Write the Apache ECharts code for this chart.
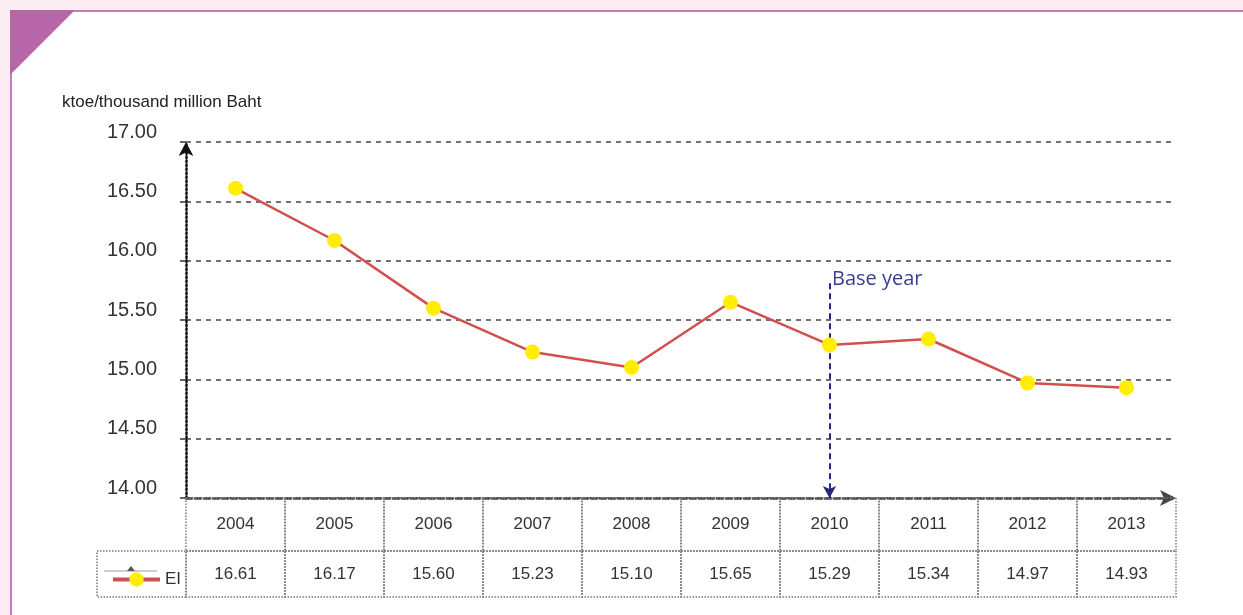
<!DOCTYPE html>
<html>
<head>
<meta charset="utf-8">
<script src="https://cdn.jsdelivr.net/npm/echarts@6/dist/echarts.min.js"></script>
<style>
html,body{margin:0;padding:0;background:#fdeef5;width:1243px;height:615px;overflow:hidden;}
#panel{position:absolute;left:10px;top:10px;right:0;bottom:0;background:#fff;border-top:2px solid #c97ab9;border-left:2px solid #c97ab9;}
#chart{position:absolute;left:0;top:0;width:1243px;height:615px;}
</style>
</head>
<body>
<div id="panel"></div>
<div id="chart"></div>
<script>
const years = ['2004','2005','2006','2007','2008','2009','2010','2011','2012','2013'];
const eiValues = [16.61, 16.17, 15.60, 15.23, 15.10, 15.65, 15.29, 15.34, 14.97, 14.93];
const yMin = 14, yMax = 17, yStep = 0.5;
const baseYear = '2010';
const baseYearTop = 15.81;
const unitLabel = 'ktoe/thousand million Baht';
const seriesName = 'EI';

const FONT = '"Liberation Sans", Arial, sans-serif';
const tableData = years.map((y, i) => [i, eiValues[i]]);
const dotted = {fill: 'none', stroke: '#7a7a7a', lineWidth: 1.5, lineDash: [1.5, 1.5]};

function renderTable(params, api) {
  const i = api.value(0);
  const c = api.coord([i, yMin]);
  const w = api.size([1, 0])[0];
  const x0 = c[0] - w / 2, y0 = c[1];
  const h1 = 53, h2 = 46;
  const children = [
    {type: 'rect', shape: {x: x0, y: y0, width: w, height: h1}, style: dotted},
    {type: 'rect', shape: {x: x0, y: y0 + h1, width: w, height: h2}, style: dotted},
    {type: 'text', style: {text: years[i], x: c[0], y: y0 + h1 / 2, align: 'center', verticalAlign: 'middle', fontSize: 17, fontFamily: FONT, fill: '#333'}},
    {type: 'text', style: {text: eiValues[i].toFixed(2), x: c[0], y: y0 + h1 + h2 / 2, align: 'center', verticalAlign: 'middle', fontSize: 17, fontFamily: FONT, fill: '#333'}}
  ];
  if (i === 0) {
    const lw = 89;
    children.push({type: 'rect', shape: {x: x0 - lw, y: y0 + h1, width: lw, height: h2}, style: dotted});
    children.push({type: 'line', shape: {x1: x0 - lw + 7, y1: y0 + h1 + 20, x2: x0 - lw + 60, y2: y0 + h1 + 20}, style: {stroke: '#999', lineWidth: 1}});
    children.push({type: 'polygon', shape: {points: [[x0 - lw + 30, y0 + h1 + 20], [x0 - lw + 34, y0 + h1 + 15], [x0 - lw + 38, y0 + h1 + 20]]}, style: {fill: '#555'}});
  }
  return {type: 'group', children};
}

const chart = echarts.init(document.getElementById('chart'), null, {renderer: 'canvas'});
chart.setOption({
  animation: false,
  backgroundColor: 'transparent',
  graphic: [
    {type: 'polygon', shape: {points: [[10, 10], [75, 10], [10, 75]]}, style: {fill: '#b966a8'}}
  ],
  title: {
    text: unitLabel, left: 57, top: 89,
    textStyle: {fontSize: 17, fontWeight: 'normal', color: '#222', fontFamily: FONT}
  },
  legend: {
    data: [seriesName], left: 106, top: 566, itemWidth: 47, itemHeight: 18, itemGap: 8,
    lineStyle: {width: 4},
    textStyle: {fontSize: 17, color: '#333', fontFamily: FONT}
  },
  grid: {left: 186, right: 67, top: 142, bottom: 117},
  xAxis: {
    type: 'category', data: years, boundaryGap: true,
    axisLabel: {show: false}, axisTick: {show: false},
    axisLine: {show: true, symbol: ['none', 'arrow'], symbolSize: [12, 16], symbolOffset: [0, 0],
      lineStyle: {color: '#444', width: 2.5, type: [6, 3]}}
  },
  yAxis: {
    type: 'value', min: yMin, max: yMax, interval: yStep,
    axisLabel: {formatter: v => v.toFixed(2), fontSize: 20, color: '#333', fontFamily: FONT, margin: 29, verticalAlign: 'bottom', lineHeight: 20},
    axisTick: {show: true, length: 6, lineStyle: {color: '#333', width: 1.5}},
    axisLine: {show: true, symbol: ['none', 'arrow'], symbolSize: [11, 14],
      lineStyle: {color: '#111', width: 2.5, type: [1.5, 2.5]}},
    splitLine: {show: true, lineStyle: {color: '#444', width: 1.5, type: [5, 5]}}
  },
  series: [
    {
      name: seriesName, type: 'line', data: eiValues,
      symbol: 'circle', symbolSize: 15,
      lineStyle: {color: '#d24f4e', width: 2.5},
      itemStyle: {color: '#ffee00', borderWidth: 0},
      z: 5,
      markLine: {
        silent: true, symbol: ['none', 'arrow'], symbolSize: [10, 12],
        lineStyle: {color: '#24277c', width: 2, type: [6, 4]},
        label: {show: false},
        data: [[{coord: [baseYear, baseYearTop]}, {coord: [baseYear, yMin]}]]
      },
      markPoint: {
        silent: true, symbol: 'circle', symbolSize: 1, itemStyle: {color: 'rgba(0,0,0,0)'},
        label: {show: true, position: 'right', distance: 2, offset: [0, -4], formatter: 'Base year',
          fontSize: 20, color: '#3b3d8f', fontFamily: '"Open Sans", "Noto Sans", sans-serif'},
        data: [{coord: [baseYear, baseYearTop]}]
      }
    },
    {
      name: 'table', type: 'custom', data: tableData, renderItem: renderTable,
      silent: true, clip: false, z: 1
    }
  ]
});
</script>
</body>
</html>
